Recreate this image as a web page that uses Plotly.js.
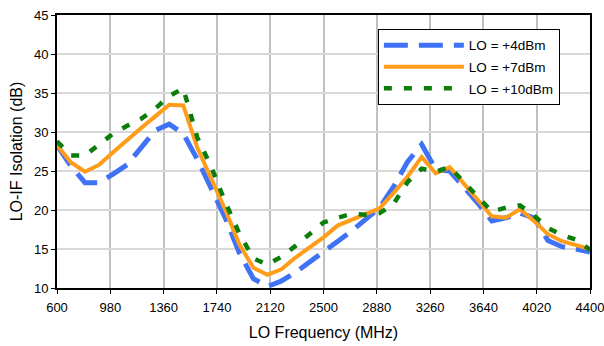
<!DOCTYPE html>
<html>
<head>
<meta charset="utf-8">
<script src="https://cdn.plot.ly/plotly-3.0.1.min.js"></script>
<style>html,body{margin:0;padding:0;background:#fff;}#chart{width:604px;height:346px;}</style>
</head>
<body>
<div id="chart"></div>
<script>
const freqMHz = [600,700,800,900,1000,1100,1200,1300,1400,1500,1600,1700,1800,1900,2000,2100,2200,2300,2400,2500,2600,2700,2800,2900,3000,3100,3200,3300,3400,3500,3600,3700,3800,3900,4000,4100,4200,4300,4400];
const lo4dBm  = [28.3,25.6,23.5,23.5,24.6,25.8,28.0,30.2,31.0,29.8,26.5,22.8,19.0,14.5,11.2,10.2,10.9,12.0,13.3,14.6,16.0,17.3,18.8,20.3,23.0,26.2,28.4,25.2,25.0,23.0,20.9,18.6,19.0,19.6,19.0,16.1,15.3,15.0,14.6];
const lo7dBm  = [28.3,26.1,24.9,25.8,27.4,29.0,30.5,32.0,33.5,33.4,28.0,24.0,20.0,15.6,12.6,11.7,12.4,13.9,15.2,16.5,18.0,18.7,19.4,20.2,22.2,24.3,26.8,24.7,25.5,23.4,21.4,19.2,19.0,20.1,18.6,16.9,16.0,15.5,15.0];
const lo10dBm = [28.8,27.0,27.0,28.4,29.8,30.8,31.7,33.0,34.6,35.6,29.3,25.5,21.0,17.0,13.8,13.0,14.0,15.4,16.9,18.4,19.0,19.5,19.4,19.6,20.8,23.6,25.3,24.9,25.5,23.6,21.7,19.8,20.3,20.6,19.3,17.7,16.8,16.2,14.9];
const seriesNames = ["LO = +4dBm","LO = +7dBm","LO = +10dBm"];
const xTicks = [600,980,1360,1740,2120,2500,2880,3260,3640,4020,4400];
const yTicks = [10,15,20,25,30,35,40,45];

const font = "Liberation Sans, Arial, sans-serif";
const traces = [
  {x:freqMHz, y:lo4dBm, name:seriesNames[0], legendgroup:"a", mode:"lines", line:{color:"#3f72f5", width:5, dash:"24px,11px"}},
  {x:freqMHz, y:lo7dBm, name:seriesNames[1], legendgroup:"b", mode:"lines", line:{color:"#ff9c1a", width:4}},
  {x:freqMHz, y:lo10dBm, name:seriesNames[2], legendgroup:"c", mode:"lines", line:{color:"#0a7d0a", width:4.5, dash:"8px,12px"}}
];
const layout = {
  width:604, height:346,
  margin:{l:57, r:14, t:15, b:58},
  paper_bgcolor:"#fff", plot_bgcolor:"#fff",
  font:{family:font, size:13, color:"#000"},
  showlegend:true,
  legend:{x:0.602, y:0.949, xanchor:"left", yanchor:"top", bgcolor:"#fff", bordercolor:"#000", borderwidth:1,
          font:{family:font, size:13.5, color:"#000"}, itemwidth:80, tracegroupgap:1},
  xaxis:{range:[600,4400], tickvals:xTicks, ticktext:xTicks.map(String), showgrid:true, gridcolor:"#c0c0c0", gridwidth:2,
         showline:true, linecolor:"#000", linewidth:2, mirror:true, ticks:"outside", ticklen:4, tickcolor:"#000",
         zeroline:false, tickfont:{size:13}, ticklabelstandoff:2, ticklabeloverflow:"allow",
         title:{text:"LO Frequency (MHz)", font:{family:font, size:16}, standoff:13}},
  yaxis:{range:[10,45], tickvals:yTicks, showgrid:true, gridcolor:"#d9d9d9", gridwidth:1.5,
         showline:true, linecolor:"#000", linewidth:2, mirror:true, ticks:"outside", ticklen:4, tickcolor:"#000",
         zeroline:false, tickfont:{size:13},
         title:{text:"LO-IF Isolation (dB)", font:{family:font, size:16}, standoff:7}}
};
Plotly.newPlot("chart", traces, layout, {staticPlot:true, displayModeBar:false});
</script>
</body>
</html>
